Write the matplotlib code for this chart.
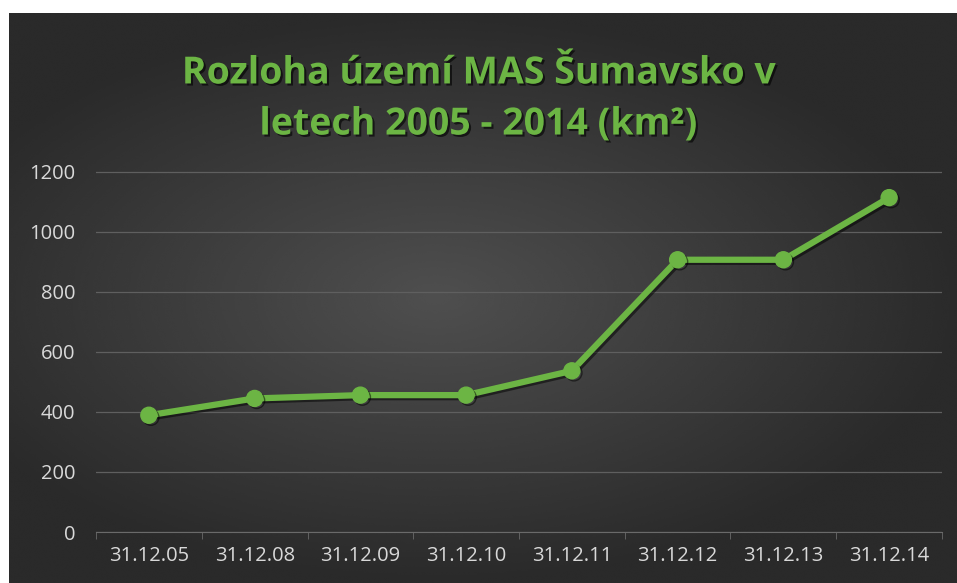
import numpy as np
import matplotlib
matplotlib.use("Agg")
import matplotlib.pyplot as plt
import matplotlib.patheffects as pe

# data
labels = ["31.12.05", "31.12.08", "31.12.09", "31.12.10",
          "31.12.11", "31.12.12", "31.12.13", "31.12.14"]
values = [389, 445, 456, 456, 537, 907, 907, 1114]
yticks = [0, 200, 400, 600, 800, 1000, 1200]

green = "#6cb544"
W, H = 957, 583

fig = plt.figure(figsize=(W / 100, H / 100), dpi=100)
fig.patch.set_facecolor("white")

# dark chart area with a soft radial gradient
bg = fig.add_axes([9 / W, 0, 1 - 9 / W, 1 - 13 / H])
yy, xx = np.mgrid[-1:1:300j, -1:1:500j]
r = np.sqrt(((xx + 0.1) / 1.0) ** 2 + (yy / 0.9) ** 2)
shade = np.clip(0.31 - 0.13 * r, 0.165, 0.31)
bg.imshow(shade, cmap="gray", vmin=0, vmax=1, aspect="auto",
          extent=[0, 1, 0, 1], interpolation="bicubic")
bg.set_axis_off()

left, right, bottom, top = 96, 942, 532, 152
ax = fig.add_axes([left / W, 1 - bottom / H, (right - left) / W, (bottom - top) / H])
ax.set_facecolor("none")

x = np.arange(len(labels))
shadow = [pe.SimpleLineShadow(offset=(1.5, -1.5), shadow_color="black", alpha=0.5), pe.Normal()]
ax.plot(x, values, color=green, lw=4.5, marker="o", ms=11.5, mfc=green, mec=green,
        solid_capstyle="round", path_effects=shadow, zorder=3, clip_on=False)

ax.set_xlim(-0.5, len(labels) - 0.5)
ax.set_ylim(0, 1266)
ax.set_yticks(yticks)
ax.set_yticklabels([str(v) for v in yticks])
ax.set_xticks(x)
ax.set_xticklabels(labels)
ax.set_xticks(np.arange(len(labels) + 1) - 0.5, minor=True)

ax.grid(axis="y", color="#5f5f5f", lw=0.9)
ax.set_axisbelow(True)
for s in ["top", "right", "left"]:
    ax.spines[s].set_visible(False)
ax.spines["bottom"].set_color("#6a6a6a")
ax.tick_params(axis="y", length=0, pad=15, labelsize=14.5, labelcolor="#d9d9d9")
ax.tick_params(axis="x", which="major", length=0, pad=10, labelsize=14.5, labelcolor="#d9d9d9")
ax.tick_params(axis="x", which="minor", length=5, color="#6a6a6a")
for lab in ax.get_xticklabels() + ax.get_yticklabels():
    lab.set_family(["Open Sans", "DejaVu Sans"])

title = fig.text(0.5, 1 - 99 / H, "Rozloha území MAS Šumavsko v\nletech 2005 - 2014 (km²)",
                 ha="center", va="center", color=green, fontsize=27, fontweight="bold",
                 family=["Open Sans", "DejaVu Sans"], linespacing=1.45)
title.set_path_effects([pe.withSimplePatchShadow(offset=(1.5, -1.5), shadow_rgbFace="black", alpha=0.6)])

fig.savefig("out.png", dpi=100, facecolor=fig.get_facecolor())
